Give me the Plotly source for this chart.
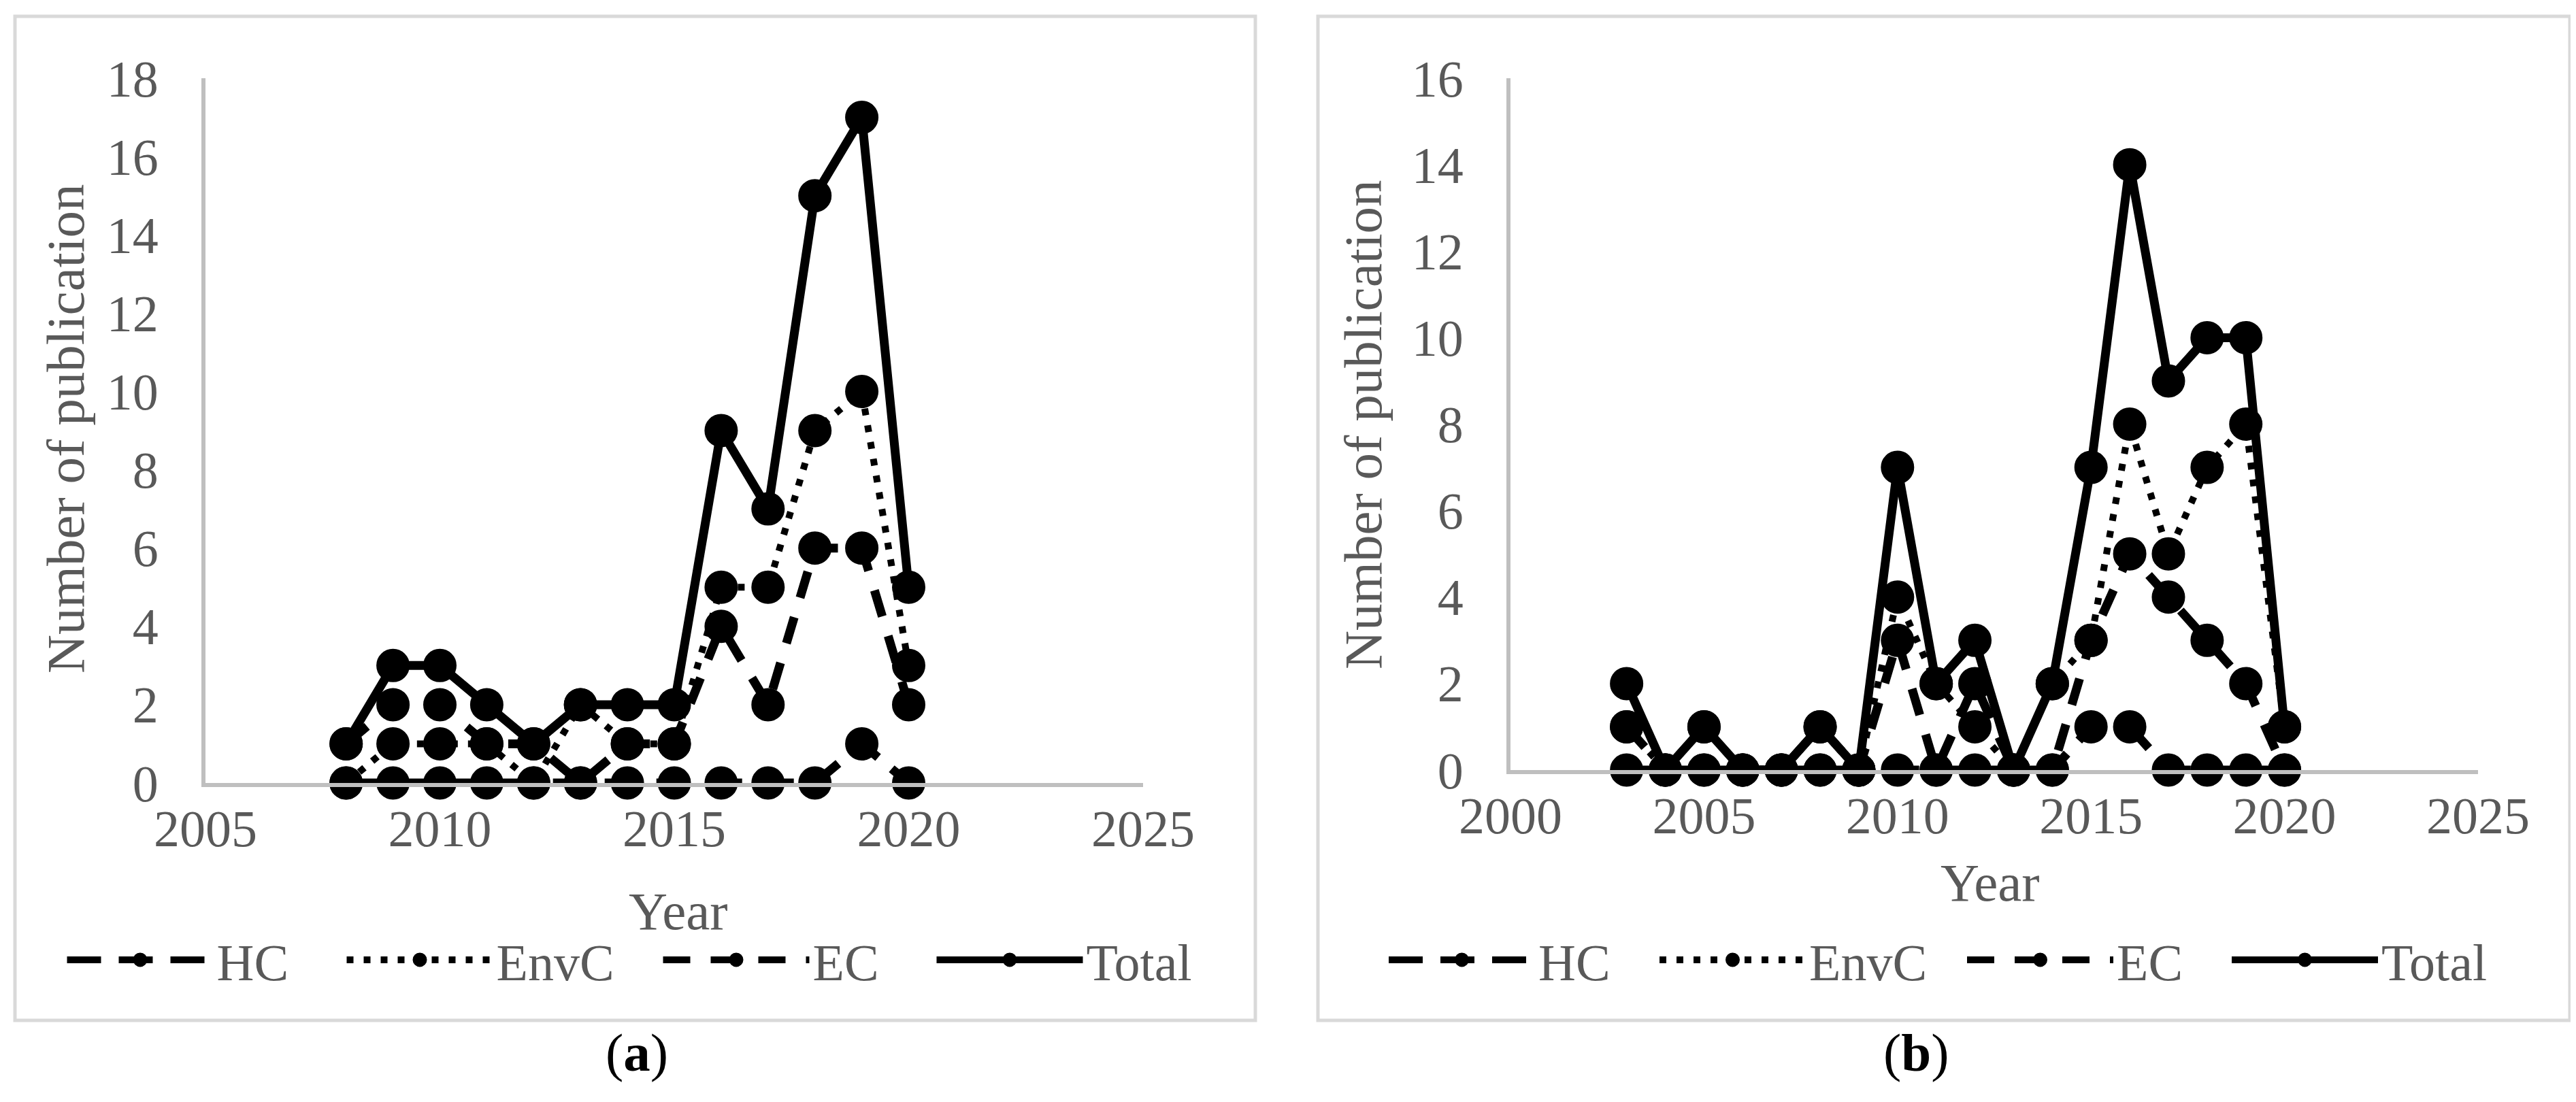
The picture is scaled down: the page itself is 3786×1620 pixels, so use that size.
import plotly.graph_objects as go

# ---------------- data ----------------
series_names = ["HC", "EnvC", "EC", "Total"]

years_a = [2008, 2009, 2010, 2011, 2012, 2013, 2014, 2015, 2016, 2017, 2018, 2019, 2020]
hc_a    = [0, 0, 0, 0, 0, 0, 0, 0, 0, 0, 0, 1, 0]
envc_a  = [0, 1, 1, 1, 0, 2, 1, 1, 5, 5, 9, 10, 3]
ec_a    = [1, 2, 2, 1, 1, 0, 1, 1, 4, 2, 6, 6, 2]
total_a = [1, 3, 3, 2, 1, 2, 2, 2, 9, 7, 15, 17, 5]

years_b = [2003, 2004, 2005, 2006, 2007, 2008, 2009, 2010, 2011, 2012,
           2013, 2014, 2015, 2016, 2017, 2018, 2019, 2020]
hc_b    = [0, 0, 0, 0, 0, 0, 0, 0, 0, 0, 0, 0, 1, 1, 0, 0, 0, 0]
envc_b  = [1, 0, 1, 0, 0, 0, 0, 4, 2, 1, 0, 2, 3, 8, 5, 7, 8, 1]
ec_b    = [1, 0, 0, 0, 0, 1, 0, 3, 0, 2, 0, 0, 3, 5, 4, 3, 2, 0]
total_b = [2, 0, 1, 0, 0, 1, 0, 7, 2, 3, 0, 2, 7, 14, 9, 10, 10, 1]

x_ticks_a = [2005, 2010, 2015, 2020, 2025]
x_ticks_b = [2000, 2005, 2010, 2015, 2020, 2025]

# ---------------- styles ----------------
W, H = 3786, 1620
FONT = "Liberation Serif"
GREY_TXT = "#595959"
AXIS_GREY = "#BFBFBF"
BOX_GREY = "#D9D9D9"
FS = 76
FS_TITLE = 79

line_styles = {
    "HC": dict(dash="50px,26px", width=13),
    "EnvC": dict(dash="10px,15px", width=10),
    "EC": dict(dash="40px,30px", width=13),
    "Total": dict(dash="solid", width=13),
}
# legend entry widths (text width + gap to next entry), per panel
legend_widths_a = {"HC": 181, "EnvC": 235, "EC": 172, "Total": 165}
legend_widths_b = {"HC": 168, "EnvC": 222, "EC": 159, "Total": 165}

fig = go.Figure()

def add_panel(years, values, xa, ya, legend, lw):
    for name, vals in zip(series_names, values):
        st = line_styles[name]
        fig.add_trace(go.Scatter(
            x=years, y=vals, name=name, mode="lines+markers",
            xaxis=xa, yaxis=ya, legend=legend,
            legendwidth=lw[name],
            line=dict(color="black", width=st["width"], dash=st["dash"]),
            marker=dict(symbol="circle", size=44, color="black",
                        line=dict(color="black", width=5)),
            cliponaxis=False,
        ))

add_panel(years_a, [hc_a, envc_a, ec_a, total_a], "x", "y", "legend", legend_widths_a)
add_panel(years_b, [hc_b, envc_b, ec_b, total_b], "x2", "y2", "legend2", legend_widths_b)

def px_x(v):
    return v / W

def px_y(v):
    return 1 - v / H

axis_common = dict(
    showline=True, linecolor=AXIS_GREY, linewidth=6, showgrid=False,
    zeroline=False, ticks="", fixedrange=True, automargin=False,
    tickfont=dict(family=FONT, size=FS, color=GREY_TXT),
)

legend_common = dict(
    orientation="h", xanchor="center", y=px_y(1403), yanchor="middle",
    itemwidth=215, font=dict(family=FONT, size=FS, color=GREY_TXT),
    bgcolor="rgba(0,0,0,0)", traceorder="normal",
)

fig.update_layout(
    width=W, height=H,
    margin=dict(l=0, r=0, t=0, b=0, pad=0, autoexpand=False),
    paper_bgcolor="white", plot_bgcolor="white",
    showlegend=True,
    xaxis=dict(domain=[px_x(294), px_x(1672)], range=[2005, 2025],
               tickvals=x_ticks_a, anchor="y", ticklabelstandoff=-4, **axis_common),
    yaxis=dict(domain=[px_y(1143), px_y(107)], range=[0, 18], dtick=2,
               anchor="x", ticklabelstandoff=48, **axis_common),
    xaxis2=dict(domain=[px_x(2212), px_x(3634)], range=[2000, 2025],
                tickvals=x_ticks_b, anchor="y2", ticklabelstandoff=-4, **axis_common),
    yaxis2=dict(domain=[px_y(1124), px_y(107)], range=[0, 16], dtick=2,
                anchor="x2", ticklabelstandoff=48, **axis_common),
    legend=dict(x=px_x(922), **legend_common),
    legend2=dict(x=px_x(2845), **legend_common),
)

# panel frames
for x0, x1 in [(14, 1837), (1929, 3769)]:
    fig.add_shape(type="rect", xref="paper", yref="paper",
                  x0=px_x(x0), x1=px_x(x1), y0=px_y(1492), y1=px_y(16),
                  line=dict(color=BOX_GREY, width=5), fillcolor="rgba(0,0,0,0)",
                  layer="below")

txt = dict(family=FONT, size=FS_TITLE, color=GREY_TXT)
annots = [
    dict(text="Year", x=px_x(989), y=px_y(1331)),
    dict(text="Year", x=px_x(2917), y=px_y(1289)),
    dict(text="Number of publication", x=px_x(88), y=px_y(622), textangle=-90),
    dict(text="Number of publication", x=px_x(1996), y=px_y(616), textangle=-90),
]
for a in annots:
    fig.add_annotation(xref="paper", yref="paper", xanchor="center", yanchor="middle",
                       showarrow=False, font=txt, **a)

for lab, xc in [("a", 928), ("b", 2808)]:
    fig.add_annotation(xref="paper", yref="paper", x=px_x(xc), y=px_y(1539),
                       xanchor="center", yanchor="middle", showarrow=False,
                       text="(<b>%s</b>)" % lab,
                       font=dict(family=FONT, size=FS_TITLE, color="black"))

fig.write_html("out.html")
